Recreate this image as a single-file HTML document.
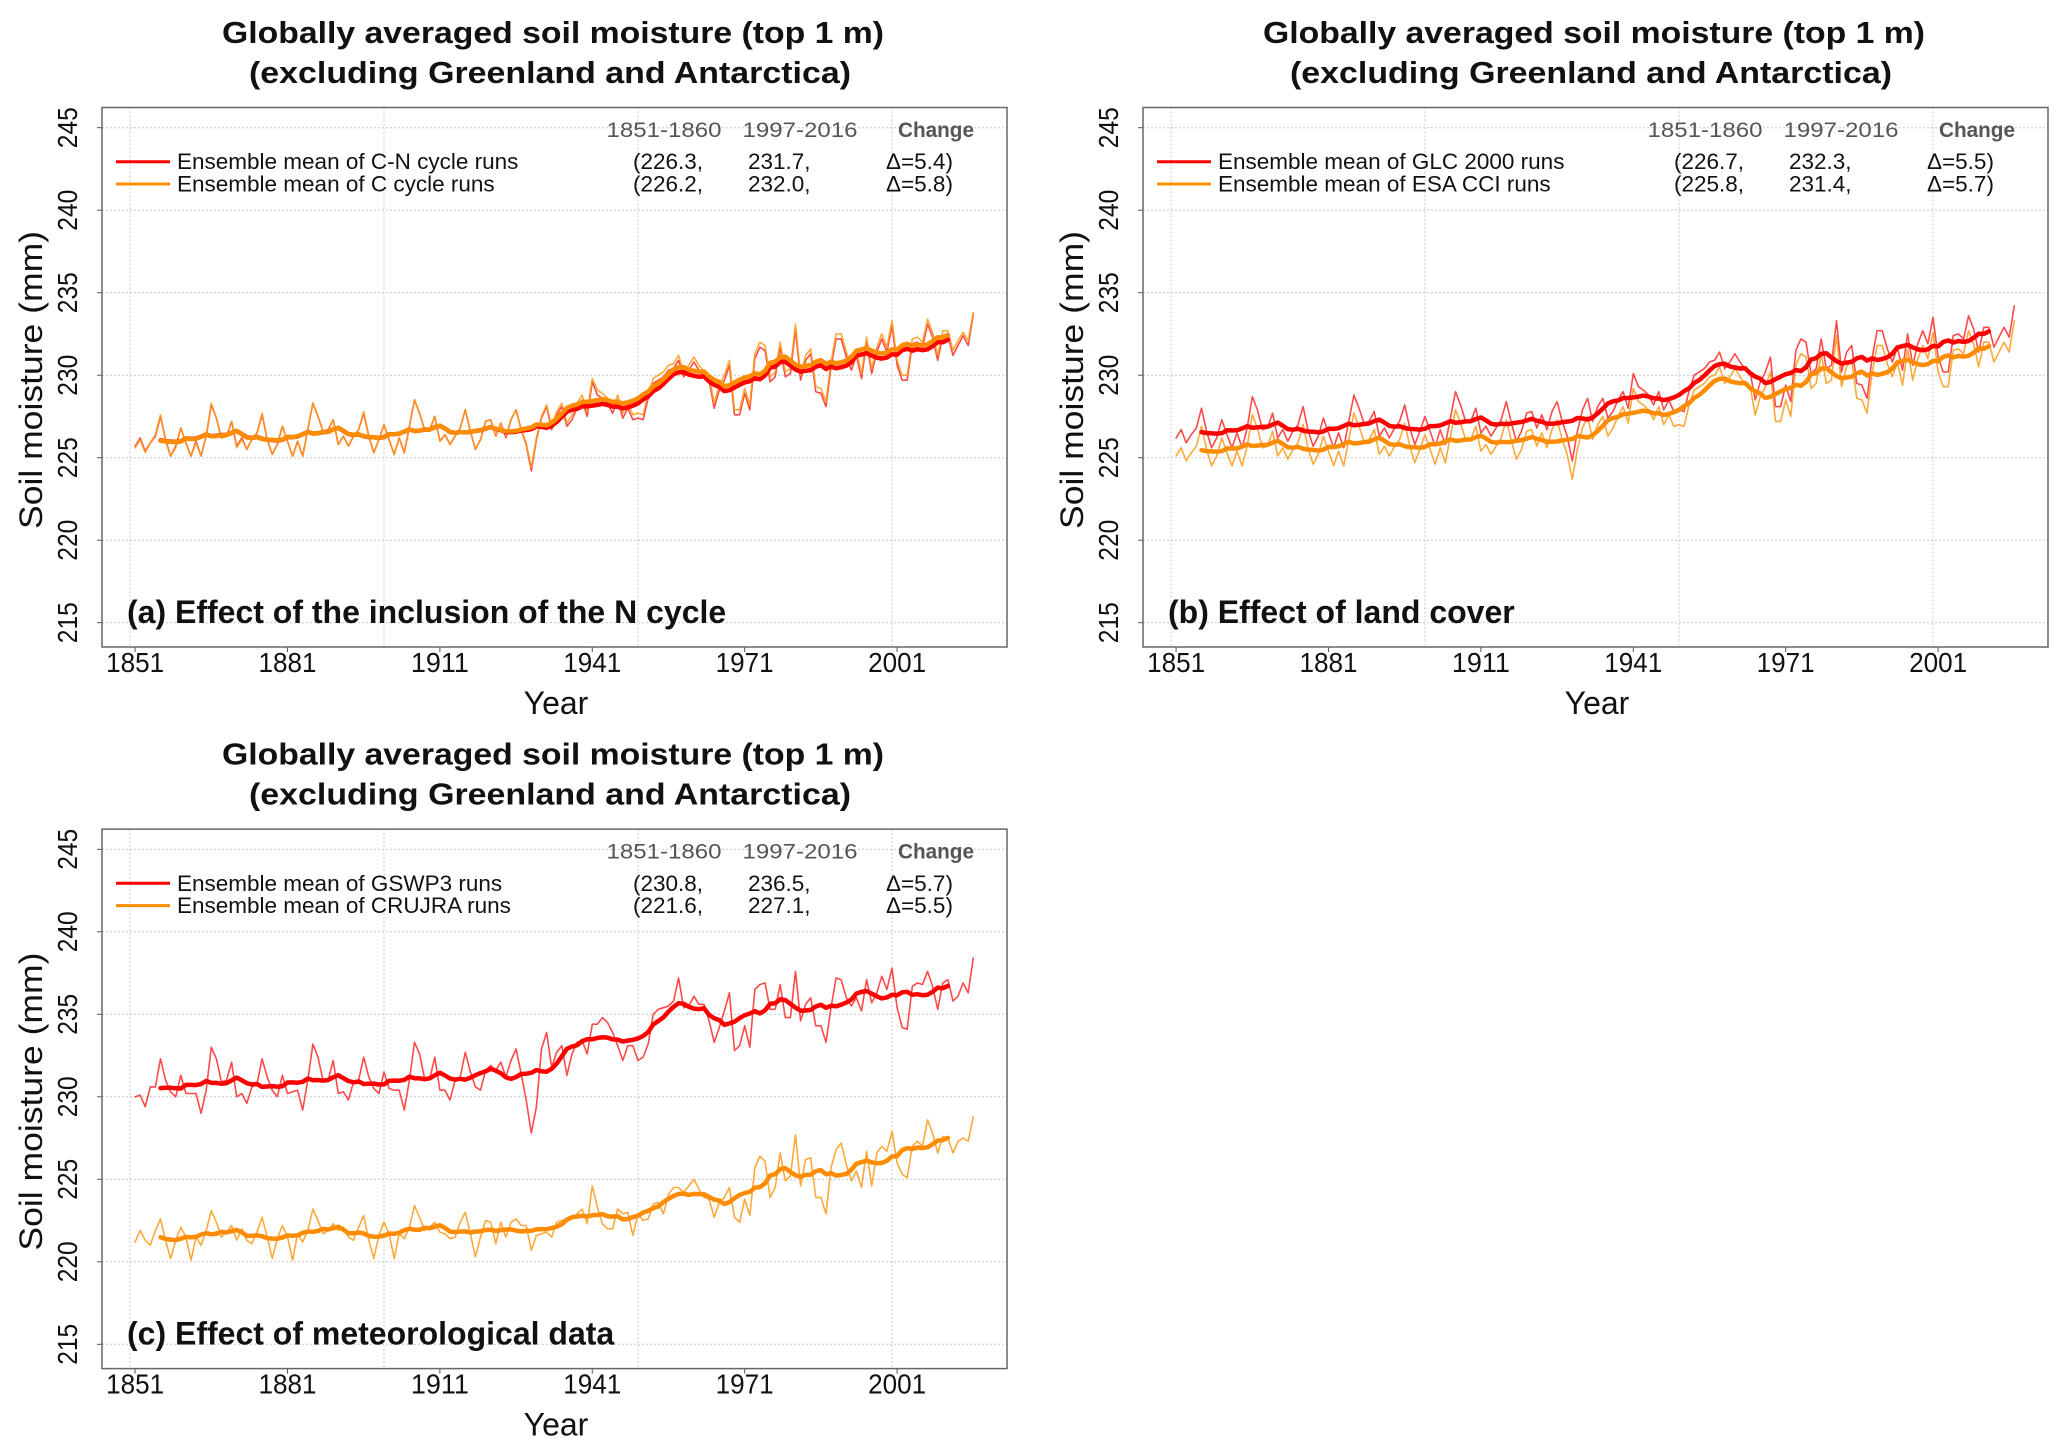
<!DOCTYPE html>
<html><head><meta charset="utf-8">
<style>
html,body{margin:0;padding:0;background:#fff;}
svg{display:block;font-family:"Liberation Sans",sans-serif;}
</style></head>
<body>
<svg id="fig" width="2067" height="1450" viewBox="0 0 2067 1450" xmlns="http://www.w3.org/2000/svg"></svg>
<script>
const startYear = 1851;
const xTickYears = [1851, 1881, 1911, 1941, 1971, 2001];
const xGridYears = [1850, 1900, 1950, 2000];
const yTicks = [215, 220, 225, 230, 235, 240, 245];

const cnCycle = [225.7,226.2,225.4,225.9,226.3,227.5,226.1,225.1,225.7,226.8,
225.9,225.1,226.0,225.1,226.3,228.2,227.4,226.2,226.3,227.2,
225.7,226.2,225.5,226.1,226.5,227.6,226.1,225.2,225.8,226.9,
226.0,225.1,226.0,225.1,226.7,228.3,227.5,226.6,226.7,227.3,
225.8,226.3,225.7,226.3,226.7,227.7,226.3,225.3,226.1,227.0,
226.1,225.2,226.2,225.3,226.9,228.5,227.7,226.7,226.7,227.5,
226.0,226.4,225.8,226.3,226.8,227.9,226.6,225.5,226.1,227.2,
227.3,226.3,227.1,226.2,227.3,227.9,226.7,225.8,224.2,226.1,
227.4,228.1,226.7,227.6,228.1,226.9,227.3,228.0,228.5,227.5,
229.6,228.8,228.6,228.3,227.7,228.5,227.4,228.0,227.3,227.4,
227.3,228.6,229.5,229.7,229.9,230.3,230.4,230.9,229.9,230.3,
230.8,230.3,229.9,229.7,228.0,229.1,229.7,230.6,227.6,227.6,
228.9,227.9,231.0,231.7,231.5,229.6,229.9,231.7,229.9,230.1,
232.8,229.7,230.9,231.3,229.0,228.9,228.1,230.5,232.2,232.2,
231.1,230.3,231.2,229.8,232.0,230.1,231.4,232.2,231.4,233.0,
230.6,229.7,229.7,231.9,232.0,231.7,233.1,232.3,230.9,232.4,
232.4,231.2,231.8,232.4,231.8,233.7];
const cCycle = [225.6,226.1,225.3,225.9,226.4,227.6,226.0,225.1,225.6,226.8,
225.9,225.1,225.9,225.1,226.3,228.3,227.4,226.2,226.3,227.2,
225.6,226.1,225.5,226.1,226.5,227.7,226.1,225.2,225.8,226.9,
226.0,225.1,226.0,225.1,226.7,228.3,227.5,226.6,226.7,227.3,
225.8,226.3,225.7,226.3,226.7,227.8,226.3,225.3,226.1,227.0,
226.1,225.2,226.2,225.3,226.9,228.5,227.7,226.7,226.7,227.5,
226.0,226.4,225.8,226.3,226.8,227.9,226.6,225.5,226.1,227.2,
227.3,226.3,227.1,226.3,227.3,227.9,226.7,225.9,224.4,226.2,
227.5,228.2,226.9,227.8,228.3,227.1,227.6,228.3,228.8,227.8,
229.8,229.1,228.9,228.6,228.0,228.8,227.7,228.3,227.6,227.7,
227.6,228.9,229.8,230.0,230.2,230.6,230.7,231.2,230.2,230.6,
231.1,230.6,230.2,230.0,228.3,229.4,230.0,230.9,227.9,227.9,
229.2,228.2,231.3,232.0,231.8,229.9,230.2,232.0,230.2,230.4,
233.1,230.0,231.2,231.6,229.3,229.2,228.4,230.8,232.5,232.5,
231.4,230.6,231.5,230.1,232.3,230.4,231.7,232.5,231.7,233.3,
230.9,230.0,230.0,232.2,232.3,232.0,233.4,232.6,231.2,232.7,
232.7,231.5,232.1,232.6,232.1,233.8];
const glc2000 = [226.2,226.7,225.9,226.4,226.8,228.0,226.6,225.6,226.2,227.3,
226.4,225.6,226.5,225.6,226.8,228.7,227.9,226.7,226.8,227.7,
226.2,226.7,226.0,226.6,227.0,228.1,226.6,225.7,226.3,227.4,
226.5,225.6,226.5,225.6,227.2,228.8,228.0,227.1,227.2,227.8,
226.3,226.8,226.2,226.8,227.2,228.2,226.8,225.8,226.6,227.5,
226.6,225.7,226.7,225.8,227.4,229.0,228.2,227.2,227.2,228.0,
226.5,226.9,226.3,226.8,227.3,228.4,227.1,226.0,226.6,227.7,
227.8,226.8,227.6,226.7,227.8,228.4,227.2,226.3,224.8,226.6,
227.9,228.6,227.2,228.1,228.6,227.4,227.8,228.5,229.0,228.0,
230.1,229.3,229.1,228.8,228.2,229.0,227.9,228.5,227.8,227.9,
227.8,229.1,230.0,230.2,230.4,230.8,230.9,231.4,230.4,230.8,
231.3,230.8,230.4,230.2,228.5,229.6,230.2,231.1,228.1,228.1,
229.4,228.4,231.5,232.2,232.0,230.1,230.4,232.2,230.4,230.6,
233.3,230.2,231.4,231.8,229.5,229.4,228.6,231.0,232.7,232.7,
231.6,230.8,231.7,230.3,232.5,230.6,231.9,232.7,231.9,233.5,
231.1,230.2,230.2,232.4,232.5,232.2,233.6,232.8,231.4,232.9,
232.9,231.7,232.3,232.9,232.3,234.2];
const esaCci = [225.1,225.6,224.8,225.3,225.7,226.9,225.5,224.5,225.1,226.2,
225.3,224.5,225.4,224.5,225.7,227.6,226.8,225.6,225.7,226.6,
225.1,225.6,224.9,225.5,225.9,227.0,225.5,224.6,225.2,226.3,
225.4,224.5,225.4,224.5,226.1,227.7,226.9,226.0,226.1,226.7,
225.2,225.7,225.1,225.7,226.1,227.1,225.7,224.7,225.5,226.4,
225.5,224.6,225.6,224.7,226.3,227.9,227.1,226.1,226.1,226.9,
225.4,225.8,225.2,225.7,226.2,227.3,226.0,224.9,225.5,226.6,
226.7,225.7,226.5,225.6,226.7,227.3,226.1,225.2,223.7,225.5,
226.8,227.5,226.1,227.0,227.5,226.3,226.8,227.5,228.1,227.1,
229.2,228.4,228.2,227.9,227.3,228.1,227.0,227.6,226.9,227.0,
226.9,228.2,229.1,229.3,229.5,229.9,230.0,230.5,229.5,229.9,
230.4,229.9,229.5,229.3,227.6,228.7,229.3,230.2,227.2,227.2,
228.5,227.5,230.6,231.3,231.1,229.2,229.5,231.3,229.5,229.7,
232.4,229.3,230.5,230.9,228.6,228.5,227.7,230.1,231.8,231.8,
230.7,229.9,230.8,229.4,231.6,229.7,231.0,231.8,231.0,232.6,
230.2,229.3,229.3,231.5,231.6,231.3,232.7,231.9,230.5,232.0,
232.0,230.8,231.4,232.0,231.4,233.3];
const gswp3 = [230.0,230.1,229.4,230.6,230.6,232.3,231.0,230.3,230.0,231.3,
230.2,230.2,230.2,229.0,230.4,233.0,232.3,230.9,231.0,232.1,
230.0,230.2,229.6,230.6,230.8,232.3,231.2,230.4,230.0,231.3,
230.2,230.3,230.4,229.2,231.0,233.2,232.4,231.0,231.0,232.2,
230.2,230.3,229.8,230.9,231.0,232.4,231.2,230.5,230.2,231.5,
230.5,230.4,230.4,229.2,231.0,233.3,232.6,231.1,231.1,232.4,
230.4,230.4,229.8,231.0,231.2,232.7,231.5,230.6,230.4,231.6,
231.9,231.6,232.1,231.2,232.2,232.9,231.4,229.8,227.8,229.4,
232.9,233.9,231.8,232.7,233.1,231.3,232.6,233.3,233.4,232.6,
234.4,234.4,234.8,234.5,233.9,233.1,232.2,233.1,233.1,232.2,
232.4,233.2,235.0,235.3,235.4,235.5,235.8,237.2,235.4,235.5,
236.1,235.6,235.6,234.6,233.3,234.2,235.2,236.3,232.8,233.1,
234.3,233.0,236.5,236.8,236.9,235.3,235.3,236.8,234.8,234.8,
237.6,234.6,235.6,236.0,234.3,234.3,233.3,235.4,237.2,237.1,
236.0,235.5,236.0,235.2,237.1,235.7,236.3,237.3,236.5,237.8,
235.4,234.2,234.1,236.7,236.9,236.8,237.6,236.7,235.3,236.9,
237.1,235.8,236.1,236.9,236.3,238.4];
const crujra = [221.2,221.9,221.3,221.0,221.9,222.6,221.3,220.2,221.3,222.1,
221.5,220.1,221.5,221.0,221.9,223.1,222.4,221.5,221.8,222.2,
221.3,222.0,221.3,221.1,221.8,222.7,221.5,220.2,221.4,222.2,
221.5,220.1,221.7,221.2,221.9,223.2,222.5,221.7,221.9,222.3,
221.9,222.1,221.5,221.3,222.1,222.8,221.3,220.2,221.6,222.4,
221.7,220.2,221.7,221.4,222.1,223.4,222.7,221.9,222.1,222.4,
221.8,221.7,221.4,221.5,222.4,223.0,221.7,220.3,221.5,222.5,
222.4,221.1,222.4,221.5,222.4,222.6,222.2,222.2,220.7,221.6,
221.7,221.8,221.5,222.4,222.5,222.6,222.6,222.9,223.2,222.3,
224.6,223.3,222.3,222.0,222.0,223.2,222.9,223.0,221.6,222.9,
222.5,222.6,223.5,223.6,222.9,224.1,224.5,224.5,224.2,224.6,
225.0,224.4,223.9,223.8,222.7,223.6,223.9,224.5,222.7,222.4,
223.8,222.8,225.7,226.4,226.1,223.9,224.5,226.6,224.9,225.2,
227.7,224.6,226.2,226.3,223.9,223.9,222.9,225.7,226.8,227.2,
225.9,224.9,225.5,224.5,226.7,224.6,226.6,227.0,226.7,227.9,
226.0,225.3,225.1,227.0,227.3,227.0,228.6,227.8,226.6,227.6,
227.5,226.6,227.3,227.5,227.3,228.8];

const legendA = ["Ensemble mean of C-N cycle runs", "Ensemble mean of C cycle runs"];
const legendB = ["Ensemble mean of GLC 2000 runs", "Ensemble mean of ESA CCI runs"];
const legendC = ["Ensemble mean of GSWP3 runs", "Ensemble mean of CRUJRA runs"];
const statsA = [["(226.3,", "231.7,", "\u0394=5.4)"], ["(226.2,", "232.0,", "\u0394=5.8)"]];
const statsB = [["(226.7,", "232.3,", "\u0394=5.5)"], ["(225.8,", "231.4,", "\u0394=5.7)"]];
const statsC = [["(230.8,", "236.5,", "\u0394=5.7)"], ["(221.6,", "227.1,", "\u0394=5.5)"]];

const NS = "http://www.w3.org/2000/svg";
const svg = document.getElementById('fig');
function mk(tag, attrs, parent) {
  const e = document.createElementNS(NS, tag);
  for (const k in attrs) e.setAttribute(k, attrs[k]);
  parent.appendChild(e);
  return e;
}
function runMean(arr) {
  const out = [];
  for (let i = 5; i < arr.length - 5; i++) {
    let s = 0;
    for (let j = i - 5; j <= i + 5; j++) s += arr[j];
    out.push([i, s / 11]);
  }
  return out;
}

function panel(dx, dy, key, red, orange, legend, stats, label) {
  const g = mk('g', {transform: 'translate(' + dx + ',' + dy + ')'}, svg);
  
  
  const L = 102, R = 1007, T = 107.5, B = 647;
  const xs = y => 130 + (y - 1850) * 5.08;
  const ys = v => 457.7 - (v - 225) * 16.5;

  const t1 = mk('text', {x: 553, y: 43, 'text-anchor': 'middle', 'font-size': 31, 'font-weight': 'bold', fill: '#111', textLength: 662, lengthAdjust: 'spacingAndGlyphs'}, g);
  t1.textContent = 'Globally averaged soil moisture (top 1 m)';
  
  
  const t2 = mk('text', {x: 550, y: 83, 'text-anchor': 'middle', 'font-size': 31, 'font-weight': 'bold', fill: '#111', textLength: 602, lengthAdjust: 'spacingAndGlyphs'}, g);
  t2.textContent = '(excluding Greenland and Antarctica)';
  
  

  const grid = mk('g', {stroke: '#c8c8c8', 'stroke-width': 1, 'stroke-dasharray': '2,2'}, g);
  
  
  xGridYears.forEach(yr => { mk('line', {x1: xs(yr), x2: xs(yr), y1: T, y2: B}, grid); });
  yTicks.forEach(v => { mk('line', {x1: L, x2: R, y1: ys(v), y2: ys(v)}, grid); });

  const axis = mk('g', {}, g);
  
  
  yTicks.forEach(v => {
    mk('line', {x1: L - 5, x2: L, y1: ys(v), y2: ys(v), stroke: '#555', 'stroke-width': 1}, axis);
    const tl = mk('text', {x: 0, y: 0, transform: 'translate(' + 77 + ',' + ys(v) + ') rotate(-90)', 'text-anchor': 'middle', 'font-size': 28, fill: '#111', textLength: 41, lengthAdjust: 'spacingAndGlyphs'}, axis);
    tl.textContent = String(v);
    
    
  });
  xTickYears.forEach(yr => {
    mk('line', {x1: xs(yr), x2: xs(yr), y1: B, y2: B + 5, stroke: '#555', 'stroke-width': 1}, axis);
    const tl = mk('text', {x: xs(yr), y: 672, 'text-anchor': 'middle', 'font-size': 28, fill: '#111', textLength: 58, lengthAdjust: 'spacingAndGlyphs'}, axis);
    tl.textContent = String(yr);
    
    
  });
  const xt = mk('text', {x: 556, y: 714, 'text-anchor': 'middle', 'font-size': 32, fill: '#111'}, axis);
  xt.textContent = 'Year';
  
  
  const yt = mk('text', {x: 0, y: 0, transform: 'translate(42,380) rotate(-90)', 'text-anchor': 'middle', 'font-size': 32, fill: '#111', textLength: 298, lengthAdjust: 'spacingAndGlyphs'}, axis);
  yt.textContent = 'Soil moisture (mm)';
  
  

  const series = mk('g', {fill: 'none', 'stroke-linejoin': 'round', 'stroke-linecap': 'round'}, g);
  
  
  const thinPath = arr => arr.map((v, i) => (i ? 'L' : 'M') + xs(startYear + i).toFixed(1) + ',' + ys(v).toFixed(1)).join('');
  const thickPath = arr => runMean(arr).map((p, k) => (k ? 'L' : 'M') + xs(startYear + p[0]).toFixed(1) + ',' + ys(p[1]).toFixed(1)).join('');
  const p1 = mk('path', {d: thinPath(red), stroke: '#ff2a2a', 'stroke-width': 1.6, opacity: 0.85}, series);
  
  
  const p2 = mk('path', {d: thinPath(orange), stroke: '#ff9a1a', 'stroke-width': 1.6, opacity: 0.85}, series);
  
  
  const p3 = mk('path', {d: thickPath(red), stroke: '#ff0000', 'stroke-width': 4.5}, series);
  
  
  const p4 = mk('path', {d: thickPath(orange), stroke: '#ff8c00', 'stroke-width': 4.5}, series);
  
  

  mk('rect', {x: L, y: T, width: R - L, height: B - T, fill: 'none', stroke: '#666', 'stroke-width': 1.5}, g);

  const lg = mk('g', {'font-size': 22.5, fill: '#111'}, g);
  
  
  const hdr = [['1851-1860', 664, 'normal'], ['1997-2016', 800, 'normal'], ['Change', 936, 'bold']];
  hdr.forEach(h => {
    const ht = mk('text', {x: h[1], y: 137, 'text-anchor': 'middle', fill: '#555', 'font-size': 21, 'font-weight': h[2], textLength: h[0] === 'Change' ? 76 : 115, lengthAdjust: 'spacingAndGlyphs'}, lg);
    ht.textContent = h[0];
    
    
  });
  const cols = ['#ff0000', '#ff8c00'];
  [0, 1].forEach(r => {
    const yy = r ? 184 : 161.7;
    const ln = mk('line', {x1: 116, x2: 170, y1: yy, y2: yy, stroke: cols[r], 'stroke-width': 3}, lg);
    
    
    const tx = mk('text', {x: 177, y: yy + 7.5}, lg);
    tx.textContent = legend[r];
    
    
    [633, 748, 886].forEach((xx, c) => {
      const st = mk('text', {x: xx, y: yy + 7.5}, lg);
      st.textContent = stats[r][c];
      
      
    });
  });

  const pl = mk('text', {x: 127, y: 623, 'font-size': 32, 'font-weight': 'bold', fill: '#111'}, g);
  pl.textContent = label;
  
  
}

panel(0, 0, 'a', cnCycle, cCycle, legendA, statsA, '(a) Effect of the inclusion of the N cycle');
panel(1041, 0, 'b', glc2000, esaCci, legendB, statsB, '(b) Effect of land cover');
panel(0, 721.6, 'c', gswp3, crujra, legendC, statsC, '(c) Effect of meteorological data');
</script>
</body></html>
